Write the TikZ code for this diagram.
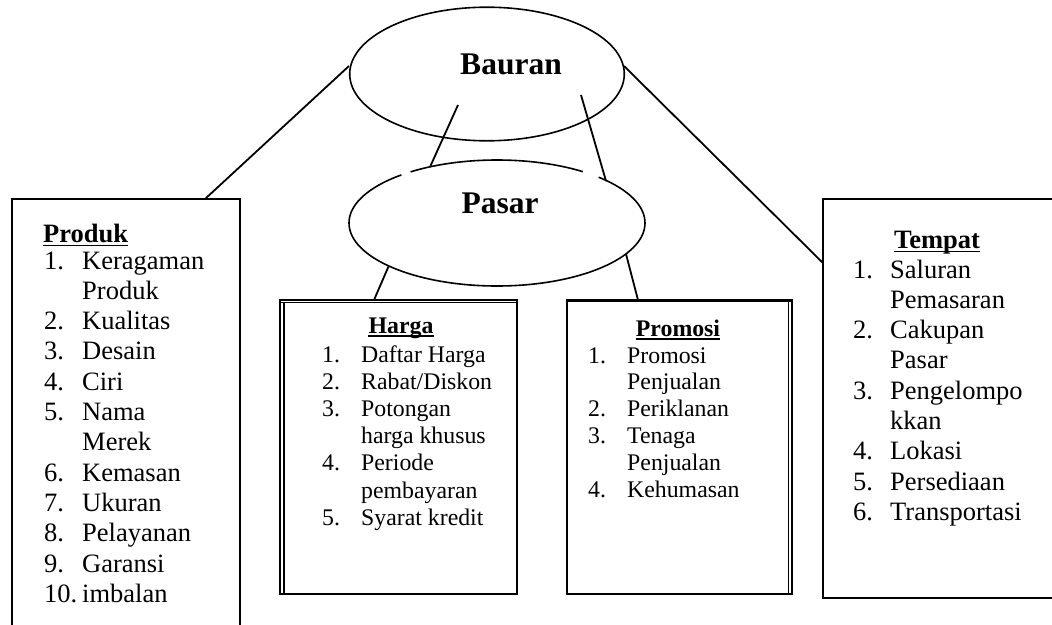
\documentclass[tikz,border=0pt]{standalone}
\usepackage{fontspec}
\setmainfont{Liberation Serif}
\usetikzlibrary{shapes.geometric}
\begin{document}
\begin{tikzpicture}[x=1pt,y=-1pt,
  oval/.style={draw, ellipse, line width=1.6pt, inner sep=0pt},
  conn/.style={line width=1.8pt},
  frame/.style={line width=1.8pt},
  thinframe/.style={line width=1.3pt},
  gap/.style={white, line width=4pt},
  uline/.style={line width=1.6pt},
  big/.style={inner sep=0pt, anchor=base, font=\fontsize{31.5}{36}\selectfont\bfseries},
  side/.style={inner sep=0pt, anchor=base west, font=\fontsize{26.5}{30}\selectfont},
  sidehead/.style={inner sep=0pt, font=\fontsize{26.5}{30}\selectfont\bfseries},
  mid/.style={inner sep=0pt, anchor=base west, font=\fontsize{23.8}{27}\selectfont},
  midhead/.style={inner sep=0pt, anchor=base, font=\fontsize{23.8}{27}\selectfont\bfseries}
]
\useasboundingbox (0,0) rectangle (1052,624);
\fill[white] (0,0) rectangle (1052,624);
\clip (0,0) rectangle (1052,624);

% ovals
\node[oval, minimum width=274.6pt, minimum height=133.6pt] (bauranE) at (487,74) {};
\node[big] (bauranT) at (511,74) {Bauran};
\node[oval, minimum width=296pt, minimum height=126pt] (pasarE) at (497,223) {};
\node[big] (pasarT) at (500,213) {Pasar};
\draw[gap] (401.5,174.9) -- (410.5,171.8);
\draw[gap] (583,171.5) -- (598.5,177.3);

% boxes
\draw[frame] (12,199) rectangle (240,640);
\coordinate (prodTop) at (205,199);
\draw[thinframe] (823,199) rectangle (1070,598);
\coordinate (tempLeft) at (823,263);
% Harga box (double left edge)
\draw[thinframe] (280,300) rectangle (517,594);
\draw[thinframe] (284,302) -- (284,594);
\draw[line width=1.4pt] (280,302.2) -- (517,302.2);
\draw[line width=0.9pt] (280,594.5) -- (517,594.5);
\coordinate (hargaTop) at (374,300);
% Promosi box (double right edge)
\draw[frame] (567,300) rectangle (792,594);
\draw[line width=1.1pt] (568,301.8) -- (792,301.8);
\draw[thinframe] (788.5,302) -- (788.5,594);
\coordinate (promTop) at (638,300);

% connectors
\coordinate (b1) at (349,66);
\coordinate (b2) at (624,66);
\coordinate (b3) at (458,105);
\coordinate (b4) at (581,95);
\coordinate (p3) at (430,167);
\coordinate (p4) at (606,181);
\coordinate (p5) at (388.5,266.5);
\coordinate (p6) at (626,254);
\draw[conn] (b1) -- (prodTop);
\draw[conn] (b2) -- (tempLeft);
\draw[conn] (b3) -- (p3);
\draw[conn] (b4) -- (p4);
\draw[conn] (p5) -- (hargaTop);
\draw[conn] (p6) -- (promTop);

% Produk
\node[sidehead, anchor=base west] (prH) at (43,242) {Produk};
\draw[uline] ([yshift=-3.5pt]prH.base west) -- ([yshift=-3.5pt]prH.base east);
\foreach \n/\t [count=\i from 0] in {1./Keragaman, /Produk, 2./Kualitas, 3./Desain, 4./Ciri, 5./Nama, /Merek, 6./Kemasan, 7./Ukuran, 8./Pelayanan, 9./Garansi, 10./imbalan}
  \node[side] (pr\i) at (44,{269+30.3*\i}) {\makebox[38pt][l]{\n}\t};

% Tempat
\node[sidehead, anchor=base] (teH) at (937,248) {Tempat};
\draw[uline] ([yshift=-3.5pt]teH.base west) -- ([yshift=-3.5pt]teH.base east);
\foreach \n/\t [count=\i from 0] in {1./Saluran, /Pemasaran, 2./Cakupan, /Pasar, 3./Pengelompo, /kkan, 4./Lokasi, 5./Persediaan, 6./Transportasi}
  \node[side] (te\i) at (853,{278+30.3*\i}) {\makebox[37pt][l]{\n}\t};

% Harga
\node[midhead] (haH) at (401,333) {Harga};
\draw[uline] ([yshift=-3pt]haH.base west) -- ([yshift=-3pt]haH.base east);
\foreach \n/\t [count=\i from 0] in {1./Daftar Harga, 2./{Rabat/Diskon}, 3./Potongan, /harga khusus, 4./Periode, /pembayaran, 5./Syarat kredit}
  \node[mid] (ha\i) at (322,{362+27.2*\i}) {\makebox[39pt][l]{\n}\t};

% Promosi
\node[midhead] (poH) at (678,336) {Promosi};
\draw[uline] ([yshift=-3pt]poH.base west) -- ([yshift=-3pt]poH.base east);
\foreach \n/\t [count=\i from 0] in {1./Promosi, /Penjualan, 2./Periklanan, 3./Tenaga, /Penjualan, 4./Kehumasan}
  \node[mid] (po\i) at (588,{363+26.8*\i}) {\makebox[39pt][l]{\n}\t};
\end{tikzpicture}
\end{document}
